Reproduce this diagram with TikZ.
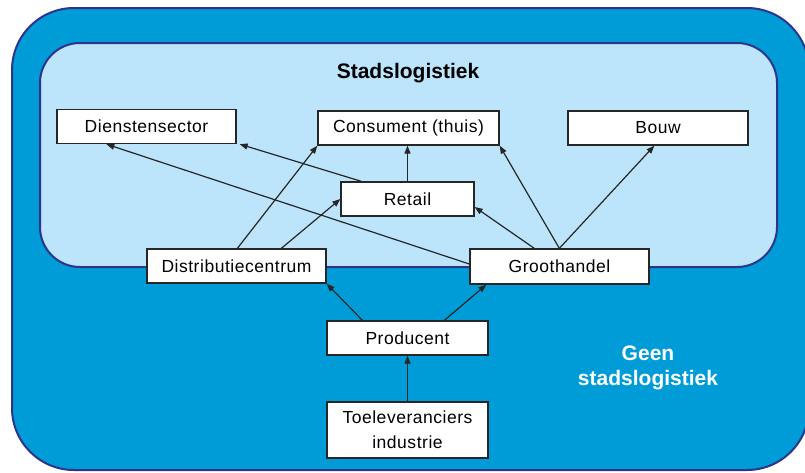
\documentclass[tikz,border=0pt]{standalone}
\usepackage{fontspec}
\setmainfont{Liberation Sans}
\newfontfamily\boxfont[LetterSpace=3]{Liberation Sans}
\usetikzlibrary{arrows.meta,calc}
\definecolor{outerblue}{RGB}{0,156,216}
\definecolor{innerblue}{RGB}{188,228,250}
\definecolor{navy}{RGB}{44,52,140}
\tikzset{
  box/.style={draw=black!85, fill=white, line width=1.3pt, inner sep=0pt,
    font=\boxfont\fontsize{17.5}{25}\selectfont, align=center},
  conn/.style={draw=black!85, line width=1.2pt, -{Triangle[length=8pt,width=6pt]}},
  zone/.style={draw=navy, line width=2pt}
}
\begin{document}
\begin{tikzpicture}[x=1pt,y=-1pt]
\useasboundingbox (0,0) rectangle (805,472);
\clip (0,0) rectangle (805,472);
\fill[white] (0,0) rectangle (805,472);
% zones
\draw[zone, fill=outerblue, rounded corners=62pt] (12,8) rectangle (809,470);
\draw[zone, fill=innerblue, rounded corners=40pt] (40,43) rectangle (777,267);
\node[font=\bfseries\fontsize{21}{24}\selectfont] (title) at (408,73) {Stadslogistiek};
\node[font=\bfseries\fontsize{21}{25}\selectfont, text=white, align=center] (geen) at (648,368) {Geen\\stadslogistiek};
% boxes
\node[box, minimum width=179pt, minimum height=34pt] (dien) at (146.5,126.5) {Dienstensector};
\node[box, minimum width=181pt, minimum height=34pt] (cons) at (408.5,128) {Consument (thuis)};
\node[box, minimum width=180pt, minimum height=34pt] (bouw) at (658,128) {Bouw};
\node[box, minimum width=133pt, minimum height=34pt] (retail) at (407.5,199) {Retail};
\node[box, minimum width=179pt, minimum height=34pt] (dc) at (236.5,266) {Distributiecentrum};
\node[box, minimum width=179pt, minimum height=35pt] (groot) at (559.5,266.5) {Groothandel};
\node[box, minimum width=161pt, minimum height=34pt] (prod) at (407.5,338) {Producent};
\node[box, minimum width=161pt, minimum height=56pt] (toel) at (407.5,430) {Toeleveranciers\\industrie};
% connectors
\draw[conn] ($(dc.north west)+(91,0)$) -- (cons.south west);
\draw[conn] ($(dc.north west)+(135,0)$) -- (retail.west);
\draw[conn] ($(retail.north west)+(21,0)$) -- ($(dien.south east)+(3,0)$);
\draw[conn] ($(groot.west)+(0,-2.5)$) -- ($(dien.south west)+(50,0)$);
\draw[conn] (retail.north) -- (retail.north |- cons.south);
\draw[conn] ($(groot.north west)+(90,0)$) -- (cons.south east);
\draw[conn] ($(groot.north west)+(65,0)$) -- ($(retail.east)+(0,8)$);
\draw[conn] ($(groot.north west)+(90,0)$) -- ($(bouw.south west)+(87,0)$);
\draw[conn] ($(prod.north west)+(36,0)$) -- (dc.south east);
\draw[conn] ($(prod.north west)+(118,0)$) -- ($(groot.south west)+(17,0)$);
\draw[conn] (toel.north) -- (toel.north |- prod.south);
\end{tikzpicture}
\end{document}
